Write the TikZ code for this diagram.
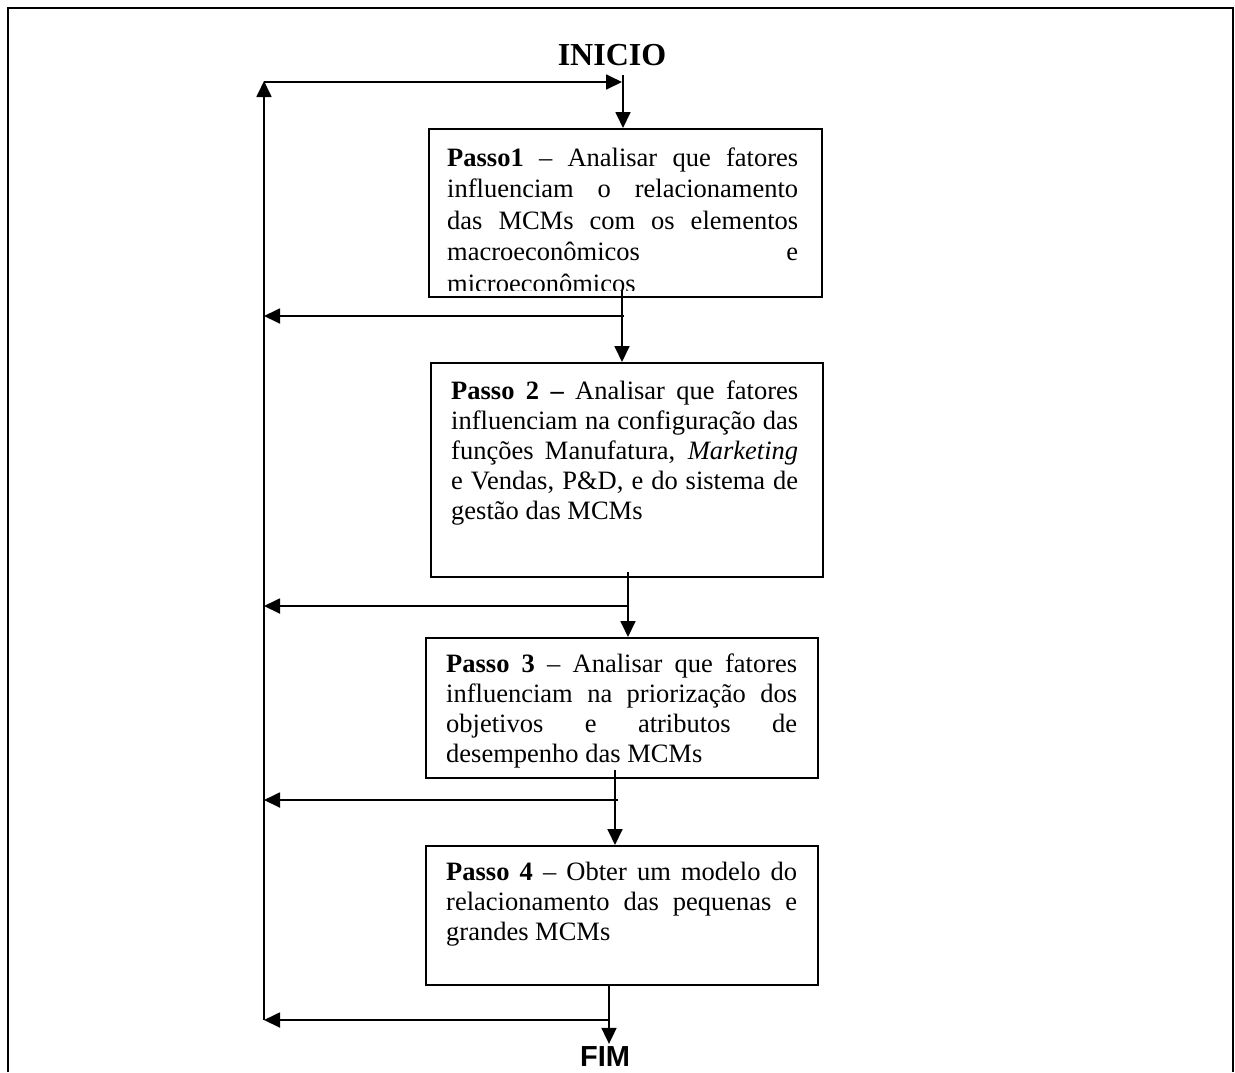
\documentclass[tikz,border=0pt]{standalone}
\usepackage{fontspec}
\setmainfont{Liberation Serif}
\newfontfamily\endfont{Liberation Sans}
\usetikzlibrary{arrows.meta}

\begin{document}
\begin{tikzpicture}[x=1pt,y=-1pt,
  flow/.style={line width=1.8pt, -{Triangle[length=16pt,width=15pt]}},
  stepbox/.style={draw, line width=1.8pt, anchor=north west, inner sep=0pt},
  steptext/.style={anchor=north west, inner sep=0pt, align=justify,
    execute at begin node={\tolerance=10000\hyphenpenalty=10000\exhyphenpenalty=10000}},
  body/.style={font=\fontsize{26.5}{30}\selectfont},
]
\useasboundingbox (0,0) rectangle (1235,1072);

% outer frame, open at the bottom
\draw[line width=2pt] (8,1072) -- (8,8) -- (1233,8) -- (1233,1072);

% start and end labels
\node[font=\bfseries\fontsize{32}{36}\selectfont, anchor=base, inner sep=0pt] (inicio) at (612,65) {INICIO};
\node[font=\endfont\bfseries\fontsize{29}{34}\selectfont, anchor=base, inner sep=0pt] (fim) at (605,1066) {FIM};

% step boxes
\node[stepbox, minimum width=393pt, minimum height=168pt] (b1) at (428,128) {};
\node[stepbox, minimum width=392pt, minimum height=214pt] (b2) at (430,362) {};
\node[stepbox, minimum width=392pt, minimum height=140pt] (b3) at (425,637) {};
\node[stepbox, minimum width=392pt, minimum height=139pt] (b4) at (425,845) {};

% step texts (the first one runs past the bottom of its box and is cut there)
\begin{scope}
  \clip (b1.north west) rectangle ([yshift=7pt]b1.south east);
  \node[steptext, text width=351pt, font=\fontsize{26.5}{31.5}\selectfont] (t1) at (447,144)
    {\rule{0pt}{22pt}\textbf{Passo1} – Analisar que fatores\linebreak
     influenciam o relacionamento\linebreak
     das MCMs com os elementos\linebreak
     macroeconômicos e\linebreak
     microeconômicos};
\end{scope}
\node[steptext, body, text width=347pt] (t2) at (451,377)
  {\rule{0pt}{22pt}\textbf{Passo 2 –} Analisar que fatores\linebreak
   influenciam na configuração das\linebreak
   funções Manufatura, \textit{Marketing}\linebreak
   e Vendas, P\&D, e do sistema de\linebreak
   gestão das MCMs};
\node[steptext, body, text width=351pt] (t3) at (446,650)
  {\rule{0pt}{22pt}\textbf{Passo 3} – Analisar que fatores\linebreak
   influenciam na priorização dos\linebreak
   objetivos e atributos de\linebreak
   desempenho das MCMs};
\node[steptext, body, text width=351pt] (t4) at (446,858)
  {\rule{0pt}{22pt}\textbf{Passo 4} – Obter um modelo do\linebreak
   relacionamento das pequenas e\linebreak
   grandes MCMs};

% junction points of the flow
\coordinate (l0) at (264,82);
\coordinate (s0) at (623,75);
\coordinate (s1) at (622,290);
\coordinate (j1) at (622,316);
\coordinate (s2) at (628,572);
\coordinate (j2) at (628,606);
\coordinate (s3) at (615,770);
\coordinate (j3) at (615,800);
\coordinate (s4) at (609,984);
\coordinate (j4) at (609,1020);

% forward flow
\draw[flow] (s0) -- (s0 |- b1.north);
\draw[flow] (s1) -- (s1 |- b2.north);
\draw[flow] (s2) -- (s2 |- b3.north);
\draw[flow] (s3) -- (s3 |- b4.north);
\draw[flow] (s4) -- ([yshift=2pt]s4 |- fim.north);

% feedback to the left return line
\draw[flow] ([xshift=2pt]j1) -- (l0 |- j1);
\draw[flow] (j2) -- (l0 |- j2);
\draw[flow] ([xshift=3pt]j3) -- (l0 |- j3);
\draw[flow] (j4) -- (l0 |- j4);

% return line back to the start
\draw[flow] (l0 |- j4) -- ([yshift=1pt]l0);
\draw[flow] (l0) -- ([xshift=-1pt]s0 |- l0);
\end{tikzpicture}
\end{document}
